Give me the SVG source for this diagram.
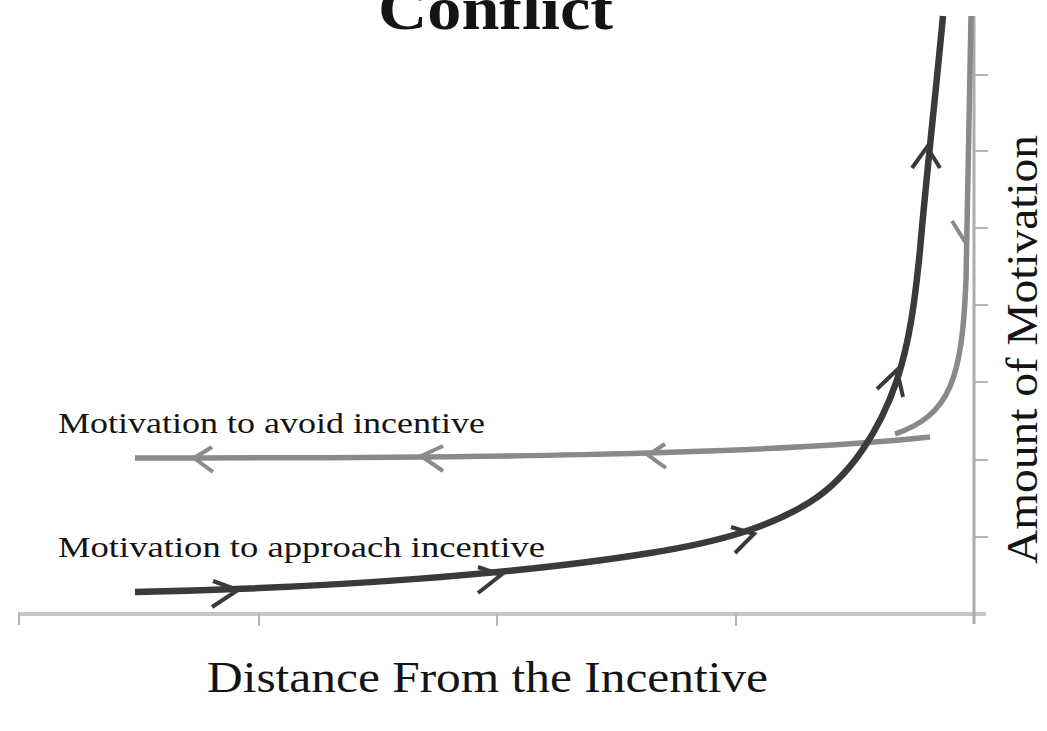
<svg xmlns="http://www.w3.org/2000/svg" width="1047" height="731" viewBox="0 0 1047 731">
  <style>
    .t { font-family: "Liberation Serif", "Times New Roman", serif; fill: #141414; }
    .ax { stroke: #c6c6c6; stroke-width: 4; fill: none; }
    .axy { stroke: #acacac; stroke-width: 3; fill: none; }
    .tick { stroke: #b4b4b4; stroke-width: 2; fill: none; }
    .appr { stroke: #3a3a3a; stroke-width: 6.5; fill: none; stroke-linecap: butt; stroke-linejoin: miter; }
    .apprh { stroke: #3a3a3a; stroke-width: 4; fill: none; stroke-linejoin: miter; }
    .avoid { stroke: #8a8a8a; stroke-width: 5.5; fill: none; }
    .avoidh { stroke: #8a8a8a; stroke-width: 4; fill: none; stroke-linejoin: miter; }
  </style>
  <rect width="1047" height="731" fill="#ffffff"/>

  <g id="title">
    <text class="t" x="378" y="29" font-size="62" font-weight="bold" textLength="235" lengthAdjust="spacingAndGlyphs">Conflict</text>
  </g>

  <g id="axes">
    <line class="ax" x1="18" y1="614" x2="986" y2="614"/>
    <line class="axy" x1="974" y1="16" x2="974" y2="624"/>
    <g class="tick">
      <line x1="19" y1="614" x2="19" y2="625"/>
      <line x1="259" y1="614" x2="259" y2="626"/>
      <line x1="497" y1="614" x2="497" y2="626"/>
      <line x1="736" y1="614" x2="736" y2="626"/>
      <line x1="974" y1="75" x2="988" y2="75"/>
      <line x1="974" y1="151" x2="988" y2="151"/>
      <line x1="974" y1="228" x2="988" y2="228"/>
      <line x1="974" y1="305" x2="988" y2="305"/>
      <line x1="974" y1="382" x2="988" y2="382"/>
      <line x1="974" y1="460" x2="988" y2="460"/>
      <line x1="974" y1="537" x2="988" y2="537"/>
    </g>
  </g>

  <g id="connectors">
    <g id="avoid-curve">
      <path class="avoid" d="M135,458 C450,458 750,456 930,437"/>
      <path class="avoid" d="M971,16 L966,280 C962,380 950,415 895,434"/>
      <path class="avoidh" d="M212,447 L194,458 L213,472"/>
      <path class="avoidh" d="M443,446 L421,456 L443,471"/>
      <path class="avoidh" d="M665,444 L648,455 L666,468"/>
      <path class="avoidh" d="M952,221 L967,245"/>
    </g>
    <g id="approach-curve">
      <path class="appr" d="M135,592 C330,588 520,574 650,553 C720,542 770,527 810,502 C850,477 880,430 897,380 C910,340 915,300 920,250 C926,180 935,100 943,16"/>
      <path class="apprh" d="M213,581 L238,590 L212,607"/>
      <path class="apprh" d="M478,567 L501,575 L478,593"/>
      <path class="apprh" d="M731,527 L754,534 L735,553"/>
      <path class="apprh" d="M877,389 L897,370 L903,397"/>
      <path class="apprh" d="M912,168 L927,147 L940,168"/>
    </g>
  </g>

  <g id="label-avoid">
    <text class="t" x="58" y="433" font-size="30" textLength="427" lengthAdjust="spacingAndGlyphs">Motivation to avoid incentive</text>
  </g>
  <g id="label-approach">
    <text class="t" x="58" y="557" font-size="30" textLength="487" lengthAdjust="spacingAndGlyphs">Motivation to approach incentive</text>
  </g>
  <g id="label-x">
    <text class="t" x="207" y="692" font-size="44" textLength="561" lengthAdjust="spacingAndGlyphs">Distance From the Incentive</text>
  </g>
  <g id="label-y">
    <text class="t" transform="translate(1037,564) rotate(-90)" x="0" y="0" font-size="44" textLength="429" lengthAdjust="spacingAndGlyphs">Amount of Motivation</text>
  </g>
</svg>
